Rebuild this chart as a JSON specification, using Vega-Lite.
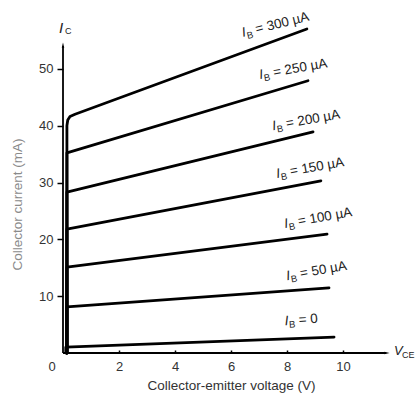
{
  "$schema": "https://vega.github.io/schema/vega-lite/v6.json",
  "width": 336,
  "height": 341,
  "autosize": {"type": "none"},
  "padding": {"left": 63, "top": 12, "right": 18, "bottom": 42},
  "background": "white",
  "config": {"view": {"stroke": null}, "font": "Liberation Sans"},
  "datasets": {
    "curves": [
      {"ib": 0, "i": 0, "vce": 0.1, "ic": 0},
      {"ib": 0, "i": 1, "vce": 0.1, "ic": 1.05},
      {"ib": 0, "i": 2, "vce": 9.68, "ic": 2.8},
      {"ib": 50, "i": 0, "vce": 0.14, "ic": 0},
      {"ib": 50, "i": 1, "vce": 0.14, "ic": 8.1},
      {"ib": 50, "i": 2, "vce": 9.5, "ic": 11.45},
      {"ib": 100, "i": 0, "vce": 0.14, "ic": 0},
      {"ib": 100, "i": 1, "vce": 0.14, "ic": 15.1},
      {"ib": 100, "i": 2, "vce": 9.43, "ic": 20.9},
      {"ib": 150, "i": 0, "vce": 0.14, "ic": 0},
      {"ib": 150, "i": 1, "vce": 0.14, "ic": 21.8},
      {"ib": 150, "i": 2, "vce": 9.21, "ic": 30.3},
      {"ib": 200, "i": 0, "vce": 0.14, "ic": 0},
      {"ib": 200, "i": 1, "vce": 0.14, "ic": 28.3},
      {"ib": 200, "i": 2, "vce": 8.93, "ic": 38.9},
      {"ib": 250, "i": 0, "vce": 0.14, "ic": 0},
      {"ib": 250, "i": 1, "vce": 0.14, "ic": 35.2},
      {"ib": 250, "i": 2, "vce": 8.75, "ic": 47.9},
      {"ib": 300, "i": 0, "vce": 0.14, "ic": 0},
      {"ib": 300, "i": 1, "vce": 0.14, "ic": 40.0},
      {"ib": 300, "i": 2, "vce": 0.17, "ic": 41.0},
      {"ib": 300, "i": 3, "vce": 0.25, "ic": 41.6},
      {"ib": 300, "i": 4, "vce": 0.43, "ic": 42.0},
      {"ib": 300, "i": 5, "vce": 8.71, "ic": 57.0}
    ],
    "labels": [
      {"ib": 300, "vce": 6.43, "ic": 55.6, "txt": "= 300 µA"},
      {"ib": 250, "vce": 7.04, "ic": 48.2, "txt": "= 250 µA"},
      {"ib": 200, "vce": 7.5, "ic": 39.2, "txt": "= 200 µA"},
      {"ib": 150, "vce": 7.64, "ic": 30.8, "txt": "= 150 µA"},
      {"ib": 100, "vce": 7.93, "ic": 22.0, "txt": "= 100 µA"},
      {"ib": 50, "vce": 8.0, "ic": 12.8, "txt": "= 50 µA"},
      {"ib": 0, "vce": 7.93, "ic": 4.9, "txt": "= 0"}
    ]
  },
  "layer": [
    {
      "data": {"name": "curves"},
      "mark": {"type": "line", "stroke": "black", "strokeWidth": 2.8, "strokeJoin": "round", "strokeCap": "round"},
      "encoding": {
        "x": {
          "field": "vce", "type": "quantitative",
          "scale": {"domain": [0, 12], "nice": false, "zero": false},
          "axis": {
            "values": [0, 2, 4, 6, 8, 10],
            "title": "Collector-emitter voltage (V)",
            "domain": false, "grid": false,
            "tickSize": -3, "tickWidth": 1.5, "tickColor": "black",
            "tickOpacity": {"condition": {"test": "datum.value == 0", "value": 0}, "value": 1},
            "labelOffset": {"condition": {"test": "datum.value == 0", "value": -15}, "value": 0},
            "labelPadding": 10, "labelFontSize": 13, "labelColor": "#333", "labelFont": "Liberation Sans",
            "titleFontSize": 13.5, "titleFontWeight": "normal", "titleColor": "#333", "titleFont": "Liberation Sans",
            "titleX": 168, "titleY": 36, "titleBaseline": "alphabetic", "titleAlign": "center"
          }
        },
        "y": {
          "field": "ic", "type": "quantitative",
          "scale": {"domain": [0, 60], "nice": false},
          "axis": {
            "values": [10, 20, 30, 40, 50],
            "title": "Collector current (mA)",
            "domain": false, "grid": false,
            "tickSize": 6, "tickWidth": 1.5, "tickColor": "black",
            "labelPadding": 4, "labelFontSize": 13, "labelColor": "#333", "labelFont": "Liberation Sans",
            "titleFontSize": 13.5, "titleFontWeight": "normal", "titleColor": "#8a8a8a", "titleFont": "Liberation Sans",
            "titleX": -46, "titleY": 192, "titleAngle": -90, "titleAlign": "center", "titleBaseline": "middle"
          }
        },
        "detail": {"field": "ib"},
        "order": {"field": "i"}
      }
    },
    {
      "data": {"values": [{}]},
      "mark": {"type": "rule", "stroke": "black", "strokeWidth": 1.8},
      "encoding": {"x": {"datum": 0}, "y": {"datum": 0}, "y2": {"datum": 54}}
    },
    {
      "data": {"values": [{}]},
      "mark": {"type": "rule", "stroke": "black", "strokeWidth": 1.8},
      "encoding": {"x": {"datum": 0}, "x2": {"datum": 11.54}, "y": {"datum": 0}}
    },
    {
      "data": {"values": [{}]},
      "mark": {"type": "point", "shape": "M0,-1L0.35,0.5L-0.35,0.5Z", "filled": true, "color": "black", "size": 50, "opacity": 1},
      "encoding": {"x": {"datum": 0}, "y": {"datum": 54}}
    },
    {
      "data": {"values": [{}]},
      "mark": {"type": "point", "shape": "M1,0L-0.5,0.35L-0.5,-0.35Z", "filled": true, "color": "black", "size": 50, "opacity": 1},
      "encoding": {"x": {"datum": 11.54}, "y": {"datum": 0}}
    },
    {
      "data": {"values": [{}]},
      "mark": {"type": "text", "text": "I", "fontStyle": "italic", "fontSize": 15, "align": "center", "baseline": "alphabetic", "dx": -2, "color": "#222"},
      "encoding": {"x": {"datum": 0}, "y": {"datum": 56.3}}
    },
    {
      "data": {"values": [{}]},
      "mark": {"type": "text", "text": "C", "fontSize": 9, "align": "left", "baseline": "alphabetic", "dx": 2, "dy": 1, "color": "#222"},
      "encoding": {"x": {"datum": 0}, "y": {"datum": 56.3}}
    },
    {
      "data": {"values": [{}]},
      "mark": {"type": "text", "text": "V", "fontStyle": "italic", "fontSize": 13, "align": "left", "baseline": "alphabetic", "dy": 2, "color": "#222"},
      "encoding": {"x": {"datum": 11.82}, "y": {"datum": 0}}
    },
    {
      "data": {"values": [{}]},
      "mark": {"type": "text", "text": "CE", "fontSize": 9, "align": "left", "baseline": "alphabetic", "dx": 8, "dy": 5, "color": "#222"},
      "encoding": {"x": {"datum": 11.82}, "y": {"datum": 0}}
    },
    {
      "data": {"name": "labels"},
      "mark": {"type": "text", "text": "I", "fontStyle": "italic", "fontSize": 13.5, "align": "left", "baseline": "alphabetic", "color": "#222"},
      "encoding": {
        "x": {"field": "vce", "type": "quantitative"},
        "y": {"field": "ic", "type": "quantitative"},
        "angle": {"condition": [{"test": "datum.ib == 0", "value": -4}, {"test": "datum.ib == 300", "value": -14}], "value": -10}
      }
    },
    {
      "data": {"name": "labels"},
      "mark": {"type": "text", "text": "B", "fontSize": 9.5, "align": "left", "baseline": "alphabetic", "dx": 4, "dy": 3, "color": "#222"},
      "encoding": {
        "x": {"field": "vce", "type": "quantitative"},
        "y": {"field": "ic", "type": "quantitative"},
        "angle": {"condition": [{"test": "datum.ib == 0", "value": -4}, {"test": "datum.ib == 300", "value": -14}], "value": -10}
      }
    },
    {
      "data": {"name": "labels"},
      "mark": {"type": "text", "fontSize": 13.5, "align": "left", "baseline": "alphabetic", "dx": 14, "color": "#222"},
      "encoding": {
        "x": {"field": "vce", "type": "quantitative"},
        "y": {"field": "ic", "type": "quantitative"},
        "text": {"field": "txt"},
        "angle": {"condition": [{"test": "datum.ib == 0", "value": -4}, {"test": "datum.ib == 300", "value": -14}], "value": -10}
      }
    }
  ]
}
